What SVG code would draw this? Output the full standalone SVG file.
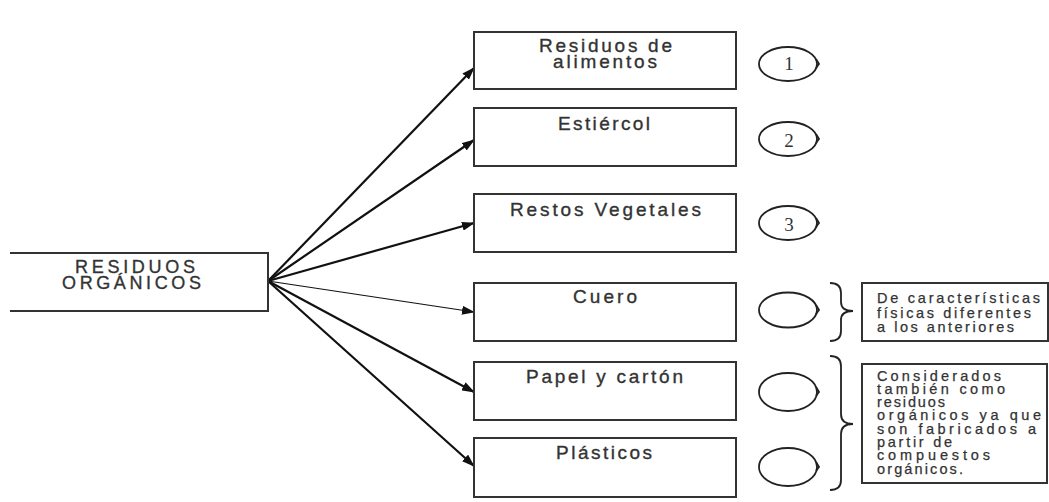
<svg xmlns="http://www.w3.org/2000/svg" width="1049" height="502" viewBox="0 0 1049 502">
<style>
.box{fill:#fff;stroke:#333;stroke-width:2}
.lbl{font-family:"Liberation Sans",Arial,sans-serif;font-size:19px;fill:#333;stroke:#333;stroke-width:0.35}
.root{font-size:18px}
.note{font-family:"Liberation Sans",Arial,sans-serif;font-size:14.5px;fill:#333;stroke:#333;stroke-width:0.25}
.num{font-family:"Liberation Serif","Times New Roman",serif;font-size:19px;fill:#333;text-anchor:middle}
.circ{fill:none;stroke:#222;stroke-width:1.8}
.brace{fill:none;stroke:#222;stroke-width:1.8}
.arr{stroke:#111;stroke-width:2.2;fill:none}
.arr.thin{stroke-width:1.2}
</style>
<defs>
<marker id="ah" markerUnits="userSpaceOnUse" markerWidth="13" markerHeight="9" refX="12" refY="4.5" orient="auto">
<path d="M0,0 L13,4.5 L0,9 z" fill="#111"/>
</marker>
</defs>
<rect width="1049" height="502" fill="#fff"/>
<g id="connectors">
<line class="arr" x1="268" y1="281" x2="474" y2="68" marker-end="url(#ah)"/>
<line class="arr" x1="268" y1="281" x2="474" y2="140" marker-end="url(#ah)"/>
<line class="arr" x1="268" y1="281" x2="474" y2="223" marker-end="url(#ah)"/>
<line class="arr thin" x1="268" y1="281" x2="474" y2="312" marker-end="url(#ah)"/>
<line class="arr" x1="268" y1="281" x2="474" y2="392" marker-end="url(#ah)"/>
<line class="arr" x1="268" y1="281" x2="474" y2="466" marker-end="url(#ah)"/>
</g>
<g id="root">
<path d="M10,253 H268 V311 H10" class="box"/>
<text class="lbl root" x="75" y="273" textLength="120" lengthAdjust="spacing">RESIDUOS</text>
<text class="lbl root" x="62" y="289" textLength="139" lengthAdjust="spacing">ORGÁNICOS</text>
</g>
<g id="n1">
<rect class="box" x="474" y="32" width="262" height="57"/>
<text class="lbl" x="539" y="52" textLength="133" lengthAdjust="spacing">Residuos de</text>
<text class="lbl" x="553" y="68" textLength="104" lengthAdjust="spacing">alimentos</text>
</g>
<g id="n2">
<rect class="box" x="474" y="108" width="262" height="58"/>
<text class="lbl" x="558" y="130" textLength="92" lengthAdjust="spacing">Estiércol</text>
</g>
<g id="n3">
<rect class="box" x="474" y="194" width="262" height="58"/>
<text class="lbl" x="510" y="216" textLength="191" lengthAdjust="spacing">Restos Vegetales</text>
</g>
<g id="n4">
<rect class="box" x="474" y="283" width="262" height="58"/>
<text class="lbl" x="573" y="303" textLength="64" lengthAdjust="spacing">Cuero</text>
</g>
<g id="n5">
<rect class="box" x="474" y="362" width="262" height="58"/>
<text class="lbl" x="526" y="383" textLength="157" lengthAdjust="spacing">Papel y cartón</text>
</g>
<g id="n6">
<rect class="box" x="474" y="438" width="262" height="59"/>
<text class="lbl" x="556" y="459" textLength="96" lengthAdjust="spacing">Plásticos</text>
</g>
<g id="c1">
<ellipse class="circ" cx="788" cy="64" rx="29" ry="17"/>
<path class="circ" d="M816,59 l3,5 l-3,4"/>
<text class="num" x="789" y="70">1</text>
</g>
<g id="c2">
<ellipse class="circ" cx="788" cy="139" rx="29" ry="17"/>
<path class="circ" d="M816,134 l3,5 l-3,4"/>
<text class="num" x="789" y="147">2</text>
</g>
<g id="c3">
<ellipse class="circ" cx="788" cy="223" rx="29" ry="17"/>
<path class="circ" d="M816,218 l3,5 l-3,4"/>
<text class="num" x="789" y="231">3</text>
</g>
<g id="c4">
<ellipse class="circ" cx="788" cy="310" rx="29" ry="17.5"/>
<path class="circ" d="M816,305 l3,5 l-3,4"/>
</g>
<g id="c5">
<ellipse class="circ" cx="788" cy="392" rx="29" ry="19"/>
<path class="circ" d="M816,387 l3,5 l-3,4"/>
</g>
<g id="c6">
<ellipse class="circ" cx="788" cy="467" rx="29" ry="19"/>
<path class="circ" d="M816,462 l3,5 l-3,4"/>
</g>
<g id="brace1">
<path class="brace" d="M830,283 Q841,283 841,293 V302 Q841,311 853,311 Q841,311 841,320 V331 Q841,341 830,341"/>
</g>
<g id="brace2">
<path class="brace" d="M830,356 Q841,356 841,366 V414 Q841,424 853,424 Q841,424 841,434 V480 Q841,490 830,490"/>
</g>
<g id="noteA">
<rect class="box" x="862" y="283" width="186" height="58"/>
<text class="note" x="877" y="303" textLength="163" lengthAdjust="spacing">De características</text>
<text class="note" x="877" y="318" textLength="154" lengthAdjust="spacing">físicas diferentes</text>
<text class="note" x="877" y="332" textLength="137" lengthAdjust="spacing">a los anteriores</text>
</g>
<g id="noteB">
<rect class="box" x="862" y="364" width="185" height="119"/>
<text class="note" x="877" y="381" textLength="124" lengthAdjust="spacing">Considerados</text>
<text class="note" x="877" y="394" textLength="128" lengthAdjust="spacing">también como</text>
<text class="note" x="877" y="407" textLength="68" lengthAdjust="spacing">residuos</text>
<text class="note" x="877" y="420" textLength="164" lengthAdjust="spacing">orgánicos ya que</text>
<text class="note" x="877" y="434" textLength="159" lengthAdjust="spacing">son fabricados a</text>
<text class="note" x="877" y="447" textLength="75" lengthAdjust="spacing">partir de</text>
<text class="note" x="877" y="460" textLength="113" lengthAdjust="spacing">compuestos</text>
<text class="note" x="877" y="474" textLength="86" lengthAdjust="spacing">orgánicos.</text>
</g>
</svg>
